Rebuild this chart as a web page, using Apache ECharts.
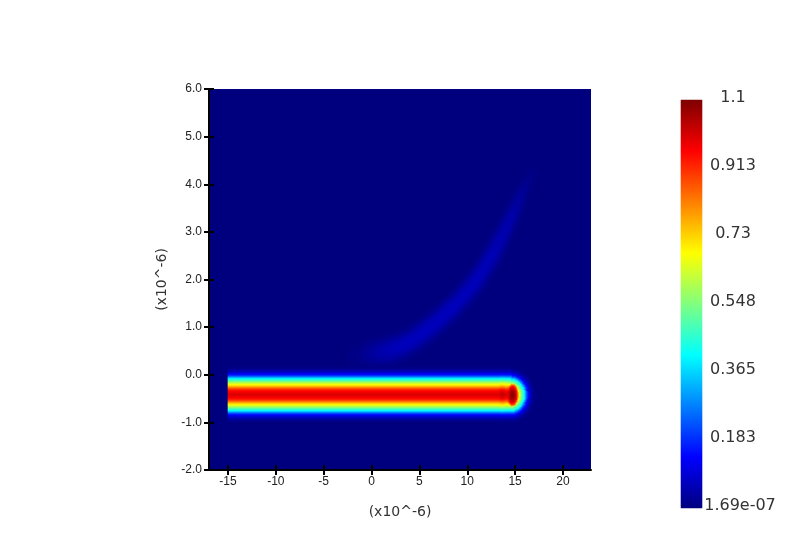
<!DOCTYPE html>
<html><head><meta charset="utf-8">
<script src="https://cdn.jsdelivr.net/npm/echarts@6/dist/echarts.min.js"></script>
<style>html,body{margin:0;background:#fff}#c{width:800px;height:559px}</style></head>
<body><div id="c"></div>
<script>
// Ticks and labels
const xTicks = [-15,-10,-5,0,5,10,15,20];
const yTicks = [-2,-1,0,1,2,3,4,5,6];
const axisTitle = '(x10^-6)';
const legendLabels = ['1.1','0.913','0.73','0.548','0.365','0.183','1.69e-07'];
const legendMin = 1.69e-7, legendMax = 1.1;
const jetColors = ['#00007f','#0000ff','#007fff','#00ffff','#7fff7f','#ffff00','#ff7f00','#ff0000','#7f0000'];
const xRange = [-16.985, 22.93];
const yRange = [-2, 6];

// Values read across the long bar, outward from its centre line, one entry per screen row
const barCentreY = -0.424;
const barStartX = -15, barEndX = 14.48;
const barProfile = [1.0,0.995,0.98,0.965,0.95,0.92,0.88,0.83,0.78,0.73,0.69,0.645,0.6,0.55,0.5,0.455,0.41,0.34,0.27,0.205,0.15,0.12,0.09,0.065,0.045,0.03,0.018,0.008,0];
// Tip of the bar: hot spot values outward from its middle, and the faint darker band before it
const capStretch = 1.1;
const hotSpotX = 14.75;
const hotSpotProfile = [1.09,1.085,1.07,1.05,1.02,0.98,0.9,0.8];
const darkBand = {x:13.7, gain:1.025};
// Faint plume: ridge points read as [x, y, peak value, half width]
const plumeRidge = [
 [-1.4,0.4,0.01,16],[0.19,0.45,0.036,19],[1.6,0.5,0.056,19],[2.98,0.59,0.064,18],[4.4,0.74,0.066,17],
 [5.77,0.94,0.066,17],[7.0,1.14,0.066,16],[8.2,1.36,0.066,16],[9.4,1.6,0.065,15],[10.65,1.89,0.064,15],
 [11.7,2.2,0.062,14],[12.74,2.55,0.058,14],[13.6,2.88,0.054,13],[14.48,3.25,0.048,12],[15.1,3.52,0.038,11],
 [15.7,3.81,0.027,10],[16.25,4.03,0.015,9],[16.75,4.23,0.006,8]];
// Plume falloff across the ridge, from ridge (first) to its edge (last)
const plumeFalloff = [1,0.98,0.93,0.85,0.74,0.6,0.46,0.32,0.2,0.1,0.04,0];

const NX = 382, NY = 381;
const dx = (xRange[1]-xRange[0])/NX, dy = (yRange[1]-yRange[0])/NY;
const xCells = [], yCells = [];
for (let i=0;i<NX;i++) xCells.push(xRange[0]+(i+0.5)*dx);
for (let j=0;j<NY;j++) yCells.push(yRange[0]+(j+0.5)*dy);
const pxX = 1/9.565, pxY = 1/47.6; // data units per screen pixel
function look(t,s){const k=Math.round(s);return k>=t.length?t[t.length-1]:t[k];}
function barVal(x,y){
  const rows=Math.abs(y-barCentreY)/pxY;
  if(x<barStartX) return 0;
  if(x<=barEndX){
    const v=look(barProfile,rows);
    return Math.abs(x-darkBand.x)/pxX<2.5 ? v*darkBand.gain : v;
  }
  const c=(x-barEndX)/pxX*capStretch;
  return look(barProfile,Math.sqrt(rows*rows+c*c));
}
function hotVal(x,y){
  const a=(x-hotSpotX)/pxX/6, b=(y-barCentreY)/pxY/11;
  const r=Math.sqrt(a*a+b*b);
  return r<=1?look(hotSpotProfile,r*(hotSpotProfile.length-1)):0;
}
function plumeVal(x,y){
  let best=1e9,val=0;
  for(let i=0;i<plumeRidge.length-1;i++){
    const A=plumeRidge[i],B=plumeRidge[i+1];
    const ax=(x-A[0])/pxX,ay=(y-A[1])/pxY,bx=(B[0]-A[0])/pxX,by=(B[1]-A[1])/pxY;
    let t=(ax*bx+ay*by)/(bx*bx+by*by);t=Math.max(0,Math.min(1,t));
    const d=Math.hypot(ax-t*bx,ay-t*by);
    if(d<best){best=d;
      const w=A[3]+(B[3]-A[3])*t;
      val=(A[2]+(B[2]-A[2])*t)*look(plumeFalloff,d/w*(plumeFalloff.length-1));}
  }
  return val;
}
const cells=[];
for(let i=0;i<NX;i++)for(let j=0;j<NY;j++){
  const x=xCells[i],y=yCells[j];
  if(x<-3&&(y>0.4||y<-1.1))continue;
  const v=Math.max(barVal(x,y),hotVal(x,y),plumeVal(x,y));
  if(v>0.001)cells.push([i,j,v]);
}
// Colour bar cells, one per 2 rows of the bar
const legendCells=[],legendCats=[];
for(let k=0;k<204;k++){legendCats.push(k);legendCells.push([0,k,legendMin+(legendMax-legendMin)*(k+0.5)/204]);}

const tickLine={lineStyle:{color:'#000',width:2}};
const labelStyle={color:'#222',fontFamily:'Liberation Sans',fontSize:12};
const titleStyle={color:'#333',fontFamily:'DejaVu Sans',fontSize:14};
const chart=echarts.init(document.getElementById('c'),null,{renderer:'canvas'});
chart.setOption({
  animation:false,
  backgroundColor:'#fff',
  grid:[
    {left:209,top:89,width:382,height:381,show:true,backgroundColor:jetColors[0],borderWidth:0},
    {left:681,top:100,width:21,height:408,show:false}
  ],
  xAxis:[
    {type:'value',position:'bottom',min:xRange[0],max:xRange[1],z:5,splitLine:{show:false},
     name:axisTitle,nameLocation:'middle',nameGap:35,nameTextStyle:titleStyle,
     axisLine:{show:true,onZero:false,lineStyle:{color:'#000',width:2}},
     axisTick:{show:true,length:5,customValues:xTicks,...tickLine},
     axisLabel:{...labelStyle,margin:6,customValues:xTicks,formatter:v=>String(v)}},
    {type:'value',position:'bottom',min:xRange[0],max:xRange[1],z:5,splitLine:{show:false},
     axisLine:{show:false,onZero:false},axisLabel:{show:false},
     axisTick:{show:true,inside:true,length:5,customValues:xTicks,...tickLine}},
    {type:'category',data:xCells,show:false,boundaryGap:true},
    {type:'category',gridIndex:1,data:['c'],show:false,boundaryGap:true}
  ],
  yAxis:[
    {type:'value',position:'left',min:yRange[0],max:yRange[1],z:5,splitLine:{show:false},
     name:axisTitle,nameLocation:'middle',nameGap:40,nameTextStyle:titleStyle,
     axisLine:{show:true,onZero:false,lineStyle:{color:'#000',width:2}},
     axisTick:{show:true,length:5,customValues:yTicks,...tickLine},
     axisLabel:{...labelStyle,margin:7,customValues:yTicks,formatter:v=>v.toFixed(1)}},
    {type:'value',position:'left',min:yRange[0],max:yRange[1],z:5,splitLine:{show:false},
     axisLine:{show:false,onZero:false},axisLabel:{show:false},
     axisTick:{show:true,inside:true,length:5,customValues:yTicks,...tickLine}},
    {type:'category',data:yCells,show:false,boundaryGap:true},
    {type:'category',gridIndex:1,data:legendCats,show:false,boundaryGap:true}
  ],
  visualMap:{type:'continuous',show:false,min:legendMin,max:legendMax,seriesIndex:[0,1],
    inRange:{color:jetColors}},
  series:[
    {type:'heatmap',xAxisIndex:2,yAxisIndex:2,data:cells,progressive:0,silent:true,
     emphasis:{disabled:true},itemStyle:{borderWidth:0}},
    {type:'heatmap',xAxisIndex:3,yAxisIndex:3,data:legendCells,progressive:0,silent:true,
     emphasis:{disabled:true},itemStyle:{borderWidth:0}}
  ],
  graphic:legendLabels.map((t,i)=>({type:'text',
    x:i===6?740:733,y:98+i*68,z:10,
    style:{text:t,fill:'#333',font:'16px "DejaVu Sans"',align:'center',verticalAlign:'middle'}}))
});
</script></body></html>
